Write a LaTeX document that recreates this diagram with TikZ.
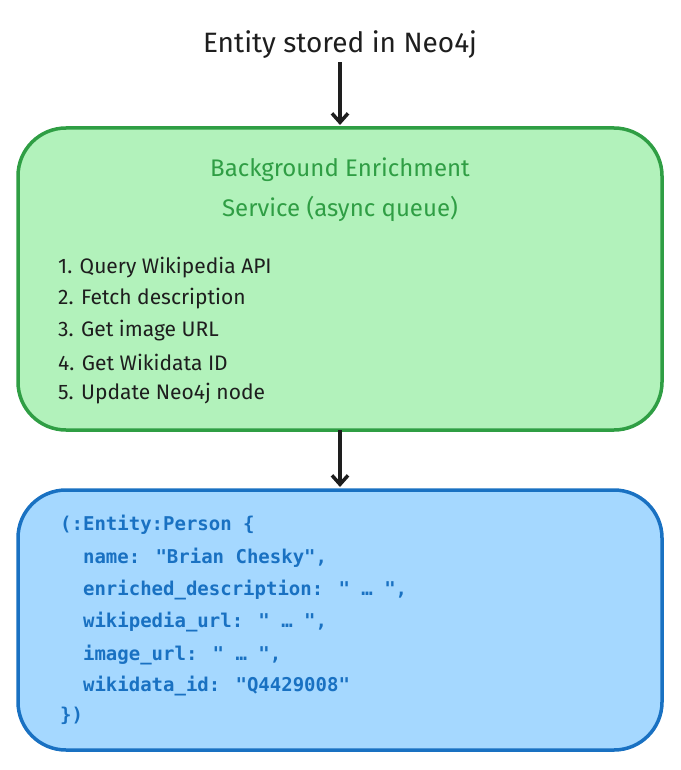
\documentclass[tikz,border=0pt]{standalone}
\usepackage{fontspec}
\usetikzlibrary{arrows.meta}
\setmainfont{Fira Sans}
\newfontfamily\codefont{DejaVu Sans Mono}
\definecolor{gfill}{HTML}{B2F2BB}
\definecolor{gline}{HTML}{2F9E44}
\definecolor{bfill}{HTML}{A5D8FF}
\definecolor{bline}{HTML}{1971C2}
\definecolor{ink}{HTML}{1E1E1E}
\begin{document}
\begin{tikzpicture}[x=1pt,y=-1pt,
  box/.style={rounded corners=48pt,line width=3.5pt},
  arr/.style={-{Straight Barb[length=9pt,width=16pt]},line width=3.5pt,ink},
  lst/.style={anchor=west,inner sep=0,font=\fontsize{21}{25}\selectfont,text=ink},
  code/.style={anchor=west,inner sep=0,font=\codefont\bfseries\fontsize{19}{23}\selectfont,text=bline}]
\useasboundingbox (0,0) rectangle (680,770);
\node[font=\fontsize{28}{32}\selectfont,text=ink] (t) at (340,45) {Entity stored in Neo4j};
\draw[box,fill=gfill,draw=gline] (18,128) rectangle (662,430);
\coordinate (gtop) at (340,125);
\coordinate (gbot) at (340,430);
\coordinate (btop) at (340,487);
\draw[arr] (t.south) -- (gtop);
\draw[arr] (gbot) -- (btop);
\node[align=center,text=gline,font=\fontsize{24}{40}\selectfont] (gt) at (340,190) {Background Enrichment\\Service (async queue)};
\node[lst] (l1) at (58,268) {1. Query Wikipedia API};
\node[lst] (l2) at (58,299) {2. Fetch description};
\node[lst] (l3) at (58,331) {3. Get image URL};
\node[lst] (l4) at (58,362) {4. Get Wikidata ID};
\node[lst] (l5) at (58,394) {5. Update Neo4j node};
\draw[box,fill=bfill,draw=bline] (18,490) rectangle (662,750);
\node[code] (c1) at (60,525) {(:Entity:Person \{};
\node[code] (c2) at (60,558) {\ \ name: "Brian Chesky",};
\node[code] (c3) at (60,590) {\ \ enriched\_description: " … ",};
\node[code] (c4) at (60,622) {\ \ wikipedia\_url: " … ",};
\node[code] (c5) at (60,655) {\ \ image\_url: " … ",};
\node[code] (c6) at (60,686) {\ \ wikidata\_id: "Q4429008"};
\node[code] (c7) at (60,716) {\})};
\end{tikzpicture}
\end{document}
